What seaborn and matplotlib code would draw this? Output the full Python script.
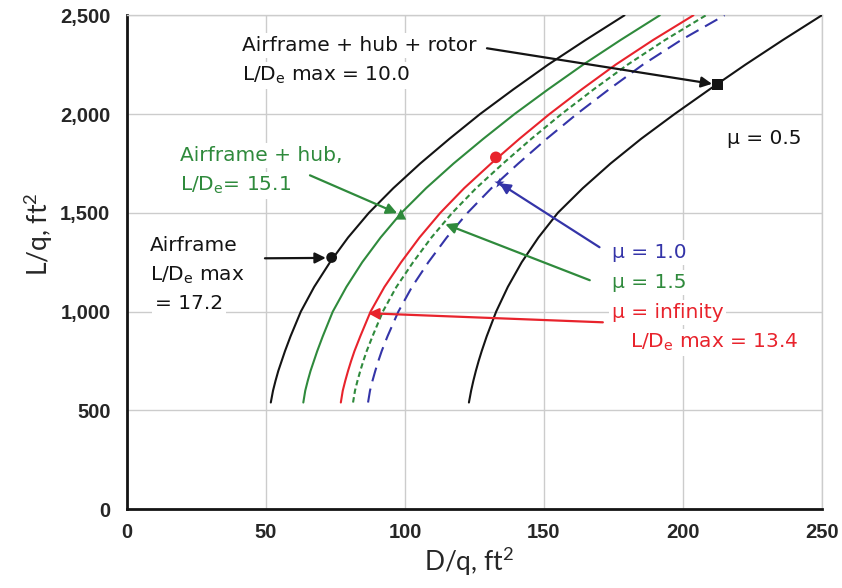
import numpy as np
import pandas as pd
import seaborn as sns
import matplotlib.pyplot as plt

lift = [540, 600, 650, 700, 750, 800, 875, 1000, 1125, 1250,
        1375, 1500, 1625, 1750, 1875, 2000, 2125, 2250, 2375, 2500]

# D/q for each curve, ft^2
airframe = [51.7, 52.5, 53.4, 54.4, 55.6, 56.8, 58.8, 62.5, 67.3, 73.0,
            79.5, 87.0, 95.8, 105.5, 116.0, 127.0, 139.0, 151.5, 165.0, 179.0]
airframe_hub = [63.4, 64.1, 65.0, 66.0, 67.2, 68.4, 70.4, 74.0, 78.9, 84.6,
                91.2, 98.7, 107.6, 117.5, 128.2, 139.4, 151.5, 164.1, 177.6, 191.7]
mu_inf = [76.9, 77.6, 78.5, 79.5, 80.6, 81.8, 83.9, 87.6, 92.6, 98.6,
          105.2, 112.7, 121.3, 131.0, 141.2, 152.0, 163.6, 175.8, 189.3, 203.8]
mu_15 = [81.3, 82.0, 82.9, 83.9, 85.0, 86.2, 88.3, 92.0, 96.9, 102.9,
         109.5, 117.0, 125.6, 135.3, 145.5, 156.3, 167.9, 180.1, 193.6, 208.3]
mu_10 = [86.7, 87.4, 88.3, 89.3, 90.4, 91.6, 93.7, 97.6, 102.5, 108.4,
         115.0, 122.5, 131.1, 140.8, 151.0, 161.8, 173.4, 185.6, 199.4, 215.0]
mu_05 = [123.0, 123.8, 124.6, 125.5, 126.5, 127.6, 129.4, 132.8, 137.0, 142.0,
         148.0, 155.0, 164.0, 174.0, 185.0, 197.0, 209.6, 222.5, 236.0, 250.0]

curve_names = ["airframe", "airframe_hub", "mu_inf", "mu_15", "mu_10", "mu_05"]

# max L/D points
point_d = [73.6, 98.5, 132.7, 212.6]
point_l = [1274, 1493, 1781, 2151]

x_ticks = [0, 50, 100, 150, 200, 250]
y_ticks = [0, 500, 1000, 1500, 2000, 2500]
y_tick_labels = ["0", "500", "1,000", "1,500", "2,000", "2,500"]

BLACK = "#141414"
GREEN = "#2f8a3c"
RED = "#e8232c"
BLUE = "#3434a8"
GRID = "#cccccc"

df = pd.DataFrame({
    "D": airframe + airframe_hub + mu_inf + mu_15 + mu_10 + mu_05,
    "L": lift * 6,
    "curve": np.repeat(curve_names, len(lift)),
})

palette = {"airframe": BLACK, "airframe_hub": GREEN, "mu_inf": RED,
           "mu_15": GREEN, "mu_10": BLUE, "mu_05": BLACK}
dashes = {"airframe": "", "airframe_hub": "", "mu_inf": "",
          "mu_15": (2.6, 1.6), "mu_10": (6.8, 3.6), "mu_05": ""}

sns.set_style("white")
plt.rcParams["font.family"] = ["DejaVu Sans"]
plt.rcParams["mathtext.default"] = "regular"

fig = plt.figure(figsize=(8.42, 5.88), dpi=100)
ax = fig.add_axes([0.151, 0.134, 0.825, 0.84])

sns.lineplot(data=df, x="D", y="L", hue="curve", style="curve",
             palette=palette, dashes=dashes, sort=False, estimator=None,
             lw=1.5, legend=False, ax=ax, zorder=3)

# markers
sns.scatterplot(x=[point_d[0]], y=[point_l[0]], color=BLACK, marker="o", s=60, ax=ax, zorder=5, edgecolor="none")
sns.scatterplot(x=[point_d[1]], y=[point_l[1]], color=GREEN, marker="^", s=60, ax=ax, zorder=5, edgecolor="none")
sns.scatterplot(x=[point_d[2]], y=[point_l[2]], color=RED, marker="o", s=70, ax=ax, zorder=5, edgecolor="none")
sns.scatterplot(x=[point_d[3]], y=[point_l[3]], color=BLACK, marker="s", s=60, ax=ax, zorder=5, edgecolor="none")

ax.set_xlim(0, 250)
ax.set_ylim(0, 2500)
ax.set_xticks(x_ticks)
ax.set_yticks(y_ticks)
ax.set_yticklabels(y_tick_labels)
for lab in ax.get_xticklabels() + ax.get_yticklabels():
    lab.set_family(["Liberation Sans", "DejaVu Sans"])
    lab.set_fontweight("bold")
    lab.set_fontsize(14.5)
ax.tick_params(axis="both", direction="in", length=4, width=1.5, color=BLACK)
ax.tick_params(axis="y", pad=12)
ax.tick_params(axis="x", pad=10)

ax.grid(True, color=GRID, lw=1)
ax.set_axisbelow(True)
for side in ["left", "bottom"]:
    ax.spines[side].set_color(BLACK)
    ax.spines[side].set_linewidth(2)
for side in ["top", "right"]:
    ax.spines[side].set_color(GRID)
    ax.spines[side].set_linewidth(1)

ax.set_xlabel("D/q, ft$^2$", fontsize=19, family=["Lato", "DejaVu Sans"])
ax.set_ylabel("L/q, ft$^2$", fontsize=19, family=["Lato", "DejaVu Sans"])
ax.xaxis.set_label_coords(0.492, -0.073)
ax.yaxis.set_label_coords(-0.104, 0.557)

box = dict(fc="white", ec="none", pad=2)
fs = 14.5

def label(x, y, s, color):
    ax.text(x, y, s, color=color, fontsize=fs, ha="left", va="center", bbox=box, zorder=2)

def arrow(tip, start, color):
    ax.annotate("", xy=tip, xytext=start, zorder=4,
                arrowprops=dict(arrowstyle="-|>", color=color, lw=1.6,
                                mutation_scale=16, shrinkA=0, shrinkB=0))

label(41.4, 2348, "Airframe + hub + rotor", BLACK)
label(41.4, 2195, "L/D$_e$ max = 10.0", BLACK)
arrow((210.5, 2153), (129.5, 2333), BLACK)

label(19.1, 1791, "Airframe + hub,", GREEN)
label(19.1, 1640, "L/D$_e$= 15.1", GREEN)
arrow((97.2, 1498), (65.8, 1690), GREEN)

label(8.3, 1336, "Airframe", BLACK)
label(8.3, 1184, "L/D$_e$ max", BLACK)
label(10.0, 1042, "= 17.2", BLACK)
arrow((71.5, 1272), (49.6, 1270), BLACK)

label(215.8, 1877, "μ = 0.5", BLACK)

label(174.5, 1300, "μ = 1.0", BLUE)
arrow((134.0, 1650), (170.0, 1326), BLUE)
sns.scatterplot(x=[134.0], y=[1650], color=BLUE, marker="*", s=60, ax=ax, zorder=5, edgecolor="none")

label(174.5, 1149, "μ = 1.5", GREEN)
arrow((114.5, 1443), (166.5, 1159), GREEN)

label(174.5, 997, "μ = infinity", RED)
label(181.0, 845, "L/D$_e$ max = 13.4", RED)
arrow((86.7, 992), (171.2, 946), RED)

fig.savefig("out.png", dpi=100)
